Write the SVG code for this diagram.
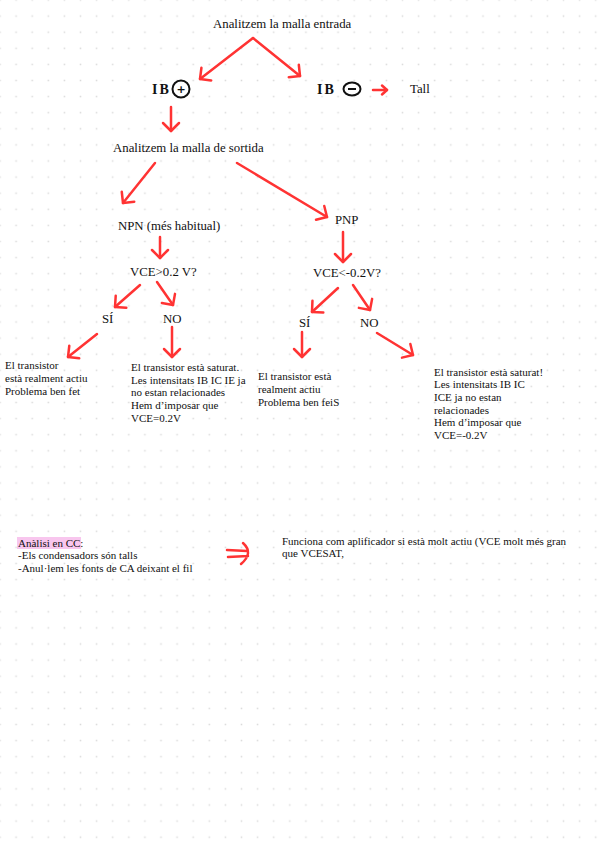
<svg xmlns="http://www.w3.org/2000/svg" width="599" height="848" viewBox="0 0 599 848">
<defs>
<pattern id="dots" x="-8.05" y="-8.05" width="16.1" height="16.1" patternUnits="userSpaceOnUse">
<rect x="7.3" y="7.3" width="1.5" height="1.5" fill="#dadada"/>
</pattern>
<marker id="head" markerUnits="userSpaceOnUse" markerWidth="20" markerHeight="20" refX="0" refY="0" viewBox="-10 -10 20 20" orient="auto" overflow="visible">
<path d="M-8,-8 L0,0 L-8,8" fill="none" stroke="#ff3333" stroke-width="2.5" stroke-linecap="round" stroke-linejoin="round"/>
</marker>
<marker id="headS" markerUnits="userSpaceOnUse" markerWidth="12" markerHeight="12" refX="0" refY="0" viewBox="-6 -6 12 12" orient="auto" overflow="visible">
<path d="M-5,-4.5 L0,0 L-5,4.5" fill="none" stroke="#ff3333" stroke-width="2.5" stroke-linecap="round" stroke-linejoin="round"/>
</marker>
</defs>
<style>
.lbl{font-family:"Liberation Serif","Times New Roman",serif;font-size:12.8px;fill:#111}
.body{font-family:"Liberation Serif","Times New Roman",serif;font-size:11px;fill:#111}
.ib{font-family:"Liberation Serif","Times New Roman",serif;font-weight:bold;font-size:14px;fill:#111;letter-spacing:2px}
.ibs{font-family:"DejaVu Sans",sans-serif;font-weight:bold;font-size:11px;fill:#111}
.c{fill:none;stroke:#ff3333;stroke-width:2.5;stroke-linecap:round;stroke-linejoin:round}
.ink{fill:none;stroke:#111;stroke-width:2}
</style>
<rect width="599" height="848" fill="#ffffff"/>
<rect width="599" height="848" fill="url(#dots)"/>

<g id="connectors">
<path class="c" d="M253,38 L200,79" marker-end="url(#head)"/>
<path class="c" d="M253,38 L300,76" marker-end="url(#head)"/>
<path class="c" d="M171,107 L171,131" marker-end="url(#head)"/>
<path class="c" d="M373,90 L387,90" marker-end="url(#headS)"/>
<path class="c" d="M155,163 L123,203" marker-end="url(#head)"/>
<path class="c" d="M237,163 L327,217" marker-end="url(#head)"/>
<path class="c" d="M160,237 L160,258" marker-end="url(#head)"/>
<path class="c" d="M343,232 L343,262" marker-end="url(#head)"/>
<path class="c" d="M140,285 L115,307" marker-end="url(#head)"/>
<path class="c" d="M157,282 L173,305" marker-end="url(#head)"/>
<path class="c" d="M338,288 L312,312" marker-end="url(#head)"/>
<path class="c" d="M353,285 L370,310" marker-end="url(#head)"/>
<path class="c" d="M97,334 L68,357" marker-end="url(#head)"/>
<path class="c" d="M172,327 L172,357" marker-end="url(#head)"/>
<path class="c" d="M302,332 L302,357" marker-end="url(#head)"/>
<path class="c" d="M377,333 L413,355" marker-end="url(#head)"/>
<path class="c" d="M227,550 L247,551 M228,557 L248,556 M243,543 Q254,553 241,564"/>
</g>

<g id="n-entrada"><text class="lbl" x="213" y="28">Analitzem la malla entrada</text></g>

<g id="n-ibpos">
<text class="ib" x="152" y="94">IB</text>
<circle class="ink" cx="181" cy="89" r="8.5"/>
<text class="ibs" x="181" y="93" text-anchor="middle">+</text>
</g>

<g id="n-ibneg">
<text class="ib" x="317" y="94">IB</text>
<ellipse class="ink" cx="352" cy="89" rx="8.5" ry="6.5"/>
<line class="ink" x1="348" y1="89" x2="356" y2="89"/>
</g>

<g id="n-tall"><text class="lbl" x="410" y="93">Tall</text></g>

<g id="n-sortida"><text class="lbl" x="113" y="152">Analitzem la malla de sortida</text></g>

<g id="n-npn"><text class="lbl" x="118" y="230">NPN (més habitual)</text></g>
<g id="n-pnp"><text class="lbl" x="335" y="224">PNP</text></g>

<g id="n-vce-npn"><text class="lbl" x="130" y="276">VCE&gt;0.2 V?</text></g>
<g id="n-vce-pnp"><text class="lbl" x="313" y="277">VCE&lt;-0.2V?</text></g>

<g id="n-si-npn"><text class="lbl" x="102" y="323">SÍ</text></g>
<g id="n-no-npn"><text class="lbl" x="163" y="323">NO</text></g>
<g id="n-si-pnp"><text class="lbl" x="299" y="327">SÍ</text></g>
<g id="n-no-pnp"><text class="lbl" x="360" y="327">NO</text></g>

<g id="n-actiu-npn">
<text class="body" x="5" y="369">El transistor</text>
<text class="body" x="5" y="382">està realment actiu</text>
<text class="body" x="5" y="395">Problema ben fet</text>
</g>

<g id="n-sat-npn">
<text class="body" x="131" y="371">El transistor està saturat.</text>
<text class="body" x="131" y="384">Les intensitats IB IC IE ja</text>
<text class="body" x="131" y="396">no estan relacionades</text>
<text class="body" x="131" y="409">Hem d’imposar que</text>
<text class="body" x="131" y="422">VCE=0.2V</text>
</g>

<g id="n-actiu-pnp">
<text class="body" x="258" y="380">El transistor està</text>
<text class="body" x="258" y="393">realment actiu</text>
<text class="body" x="258" y="406">Problema ben feiS</text>
</g>

<g id="n-sat-pnp">
<text class="body" x="434" y="376">El transistor està saturat!</text>
<text class="body" x="434" y="388">Les intensitats IB IC</text>
<text class="body" x="434" y="401">ICE ja no estan</text>
<text class="body" x="434" y="414">relacionades</text>
<text class="body" x="434" y="426">Hem d’imposar que</text>
<text class="body" x="434" y="439">VCE=-0.2V</text>
</g>

<g id="n-cc">
<rect x="17" y="537" width="64" height="12" fill="#f8c6ee"/>
<text class="body" x="18" y="547">Anàlisi en CC:</text>
<text class="body" x="18" y="559">-Els condensadors són talls</text>
<text class="body" x="18" y="572">-Anul·lem les fonts de CA deixant el fil</text>
</g>

<g id="n-funciona">
<text class="body" x="282" y="545">Funciona com aplificador si està molt actiu (VCE molt més gran</text>
<text class="body" x="282" y="557">que VCESAT,</text>
</g>
</svg>
